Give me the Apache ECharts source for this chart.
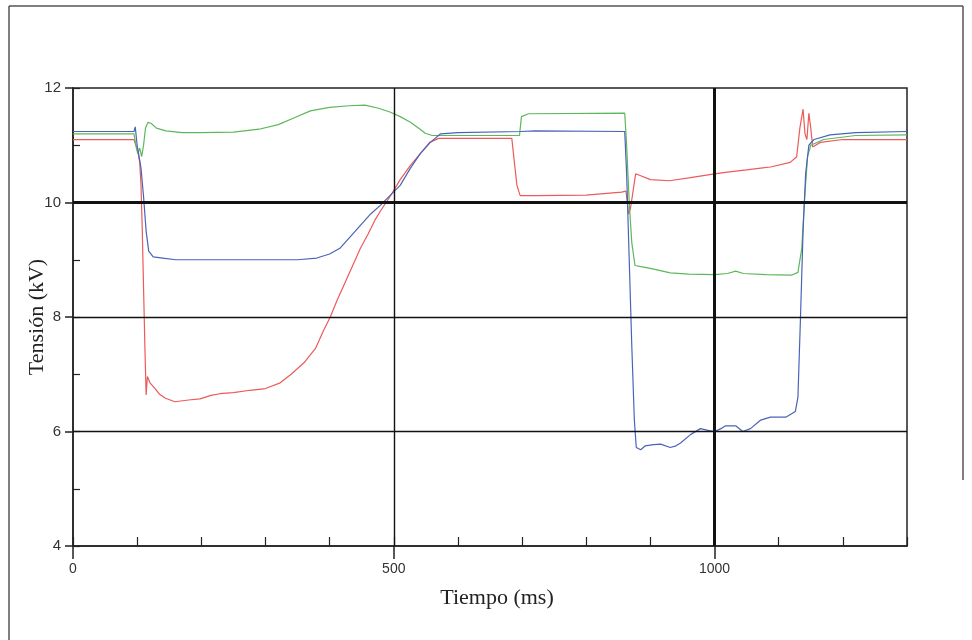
<!DOCTYPE html>
<html>
<head>
<meta charset="utf-8">
<script src="https://cdn.jsdelivr.net/npm/echarts@6/dist/echarts.min.js"></script>
<style>html,body{margin:0;padding:0;background:#fff;}#c{width:972px;height:640px;}</style>
</head>
<body>
<div id="c"></div>
<script>
// Time (ms), tension (kV)
const xTickValues = [0, 500, 1000];
const xTickLabels = ['0', '500', '1000'];
const yTickLabels = ['4', '6', '8', '10', '12'];

const blue = [
[0,11.24],[95,11.24],[97,11.32],[100,11.0],[103,10.8],[106,10.6],[110,10.1],[114,9.5],[118,9.15],[125,9.05],[140,9.03],[160,9.0],[200,9.0],[250,9.0],[300,9.0],[350,9.0],[380,9.03],[400,9.1],[416,9.2],[432,9.4],[448,9.6],[464,9.8],[479,9.95],[494,10.12],[510,10.3],[526,10.6],[541,10.85],[557,11.05],[573,11.2],[600,11.22],[698,11.24],[720,11.25],[860,11.24],[863,10.5],[867,9.0],[871,7.5],[875,6.2],[878,5.72],[885,5.68],[892,5.75],[905,5.77],[916,5.78],[931,5.72],[940,5.75],[947,5.8],[963,5.95],[978,6.05],[990,6.02],[1000,6.0],[1010,6.05],[1017,6.1],[1033,6.1],[1044,6.0],[1056,6.05],[1072,6.2],[1087,6.25],[1111,6.25],[1126,6.35],[1130,6.6],[1134,8.0],[1138,9.5],[1142,10.5],[1147,11.0],[1155,11.1],[1180,11.18],[1220,11.22],[1300,11.24]
];

const green = [
[0,11.2],[95,11.2],[98,11.0],[101,10.85],[104,10.95],[107,10.8],[110,11.0],[113,11.3],[117,11.4],[122,11.38],[130,11.3],[145,11.25],[170,11.22],[200,11.22],[250,11.23],[290,11.28],[320,11.36],[345,11.48],[370,11.6],[400,11.66],[430,11.69],[455,11.7],[475,11.65],[494,11.58],[510,11.5],[526,11.4],[541,11.28],[549,11.21],[560,11.17],[600,11.17],[696,11.17],[699,11.5],[710,11.55],[860,11.56],[863,11.0],[867,10.0],[871,9.3],[876,8.9],[885,8.88],[900,8.85],[931,8.77],[960,8.75],[1000,8.74],[1020,8.76],[1033,8.8],[1045,8.76],[1080,8.74],[1120,8.73],[1130,8.78],[1136,9.2],[1140,10.0],[1145,10.8],[1150,11.0],[1170,11.1],[1220,11.17],[1300,11.18]
];

const red = [
[0,11.1],[95,11.1],[98,11.0],[101,10.9],[104,10.7],[106,10.3],[108,9.5],[110,8.5],[112,7.5],[114,6.64],[116,6.96],[120,6.85],[128,6.75],[135,6.65],[144,6.58],[159,6.52],[180,6.55],[198,6.57],[215,6.63],[229,6.66],[250,6.68],[276,6.72],[300,6.75],[323,6.85],[340,7.0],[360,7.2],[378,7.45],[390,7.75],[401,8.0],[412,8.3],[424,8.6],[436,8.9],[448,9.2],[460,9.45],[471,9.7],[482,9.9],[494,10.1],[510,10.4],[526,10.65],[541,10.85],[556,11.05],[570,11.12],[684,11.12],[688,10.7],[692,10.3],[697,10.12],[720,10.12],[800,10.13],[855,10.18],[862,10.2],[866,9.8],[869,9.9],[873,10.2],[877,10.5],[882,10.48],[900,10.4],[930,10.38],[960,10.43],[1000,10.5],[1020,10.53],[1050,10.57],[1072,10.6],[1087,10.62],[1118,10.7],[1128,10.8],[1133,11.3],[1138,11.63],[1141,11.2],[1144,11.1],[1147,11.56],[1150,11.3],[1153,10.97],[1165,11.05],[1200,11.1],[1300,11.1]
];

const chart = echarts.init(document.getElementById('c'), null, {renderer: 'canvas'});
const axisColor = '#222';
const lineBase = {type: 'line', showSymbol: false, symbol: 'none', animation: false, xAxisIndex: 0, yAxisIndex: 0};

chart.setOption({
  backgroundColor: '#fff',
  animation: false,
  grid: {left: 73, right: 65, top: 88, bottom: 94, show: true, borderColor: axisColor, borderWidth: 1.5, backgroundColor: 'transparent'},
  xAxis: [
    {type: 'value', min: 0, max: 1300, interval: 500, position: 'bottom',
     axisLine: {show: true, lineStyle: {color: axisColor, width: 1.5}},
     axisTick: {show: true, inside: false, length: 13, customValues: xTickValues, lineStyle: {color: axisColor, width: 1.5}},
     axisLabel: {show: true, margin: 16, fontFamily: 'Liberation Sans', fontSize: 14, color: '#333',
       formatter: v => { const i = xTickValues.indexOf(v); return i >= 0 ? xTickLabels[i] : ''; }},
     splitLine: {show: false}},
    {type: 'value', min: 0, max: 1300, interval: 100, position: 'bottom', gridIndex: 0,
     axisLine: {show: false},
     axisTick: {show: true, inside: true, length: 9, lineStyle: {color: axisColor, width: 1.2}},
     axisLabel: {show: false}, splitLine: {show: false}}
  ],
  yAxis: [
    {type: 'value', min: 4, max: 12, interval: 2, position: 'left',
     axisLine: {show: true, lineStyle: {color: axisColor, width: 1.5}},
     axisTick: {show: true, inside: false, length: 8, lineStyle: {color: axisColor, width: 1.5}},
     axisLabel: {show: true, margin: 12, fontFamily: 'Liberation Sans', fontSize: 15, color: '#333',
       formatter: v => { const i = [4,6,8,10,12].indexOf(v); return i >= 0 ? yTickLabels[i] : ''; }},
     splitLine: {show: false}},
    {type: 'value', min: 4, max: 12, interval: 1, position: 'left', gridIndex: 0,
     axisLine: {show: false},
     axisTick: {show: true, inside: true, length: 7, lineStyle: {color: axisColor, width: 1.2}},
     axisLabel: {show: false}, splitLine: {show: false}}
  ],
  series: [
    Object.assign({}, lineBase, {name: 'A', data: red, z: 3, lineStyle: {color: '#ec5a5a', width: 1.2}, itemStyle: {color: '#ec5a5a'},
      markLine: {silent: true, symbol: ['none','none'], animation: false, label: {show: false},
        data: [
          {xAxis: 500, lineStyle: {color: '#111', width: 1.4, type: 'solid'}},
          {xAxis: 1000, lineStyle: {color: '#111', width: 3, type: 'solid'}},
          {yAxis: 10, lineStyle: {color: '#111', width: 3, type: 'solid'}},
          {yAxis: 8, lineStyle: {color: '#111', width: 1.4, type: 'solid'}},
          {yAxis: 6, lineStyle: {color: '#111', width: 1.4, type: 'solid'}}
        ]}}),
    Object.assign({}, lineBase, {name: 'B', data: green, z: 3, lineStyle: {color: '#5cb85a', width: 1.2}, itemStyle: {color: '#5cb85a'}}),
    Object.assign({}, lineBase, {name: 'C', data: blue, z: 3, lineStyle: {color: '#4a63b8', width: 1.2}, itemStyle: {color: '#4a63b8'}})
  ],
  graphic: [
    {type: 'line', shape: {x1: 9, y1: 6, x2: 9, y2: 640}, style: {stroke: '#555', lineWidth: 1.5}},
    {type: 'line', shape: {x1: 9, y1: 6, x2: 963, y2: 6}, style: {stroke: '#555', lineWidth: 1.5}},
    {type: 'line', shape: {x1: 963, y1: 6, x2: 963, y2: 480}, style: {stroke: '#555', lineWidth: 1.5}},
    {type: 'text', x: 37, y: 317, rotation: Math.PI / 2,
     style: {text: 'Tensión (kV)', font: '22px "Liberation Serif"', fill: '#222', textAlign: 'center', textVerticalAlign: 'middle'}},
    {type: 'text', x: 497, y: 598,
     style: {text: 'Tiempo (ms)', font: '22px "Liberation Serif"', fill: '#222', textAlign: 'center', textVerticalAlign: 'middle'}}
  ]
});
</script>
</body>
</html>
